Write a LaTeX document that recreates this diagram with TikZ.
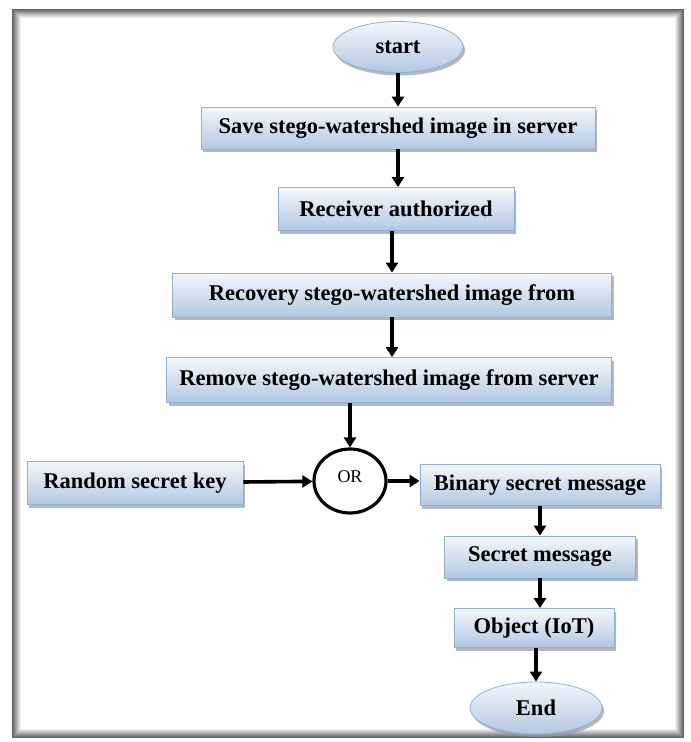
\documentclass[tikz,border=0pt]{standalone}
\usepackage{fontspec}
\setmainfont{Liberation Serif}
\usetikzlibrary{positioning, arrows.meta, shapes.geometric, shadows}
\definecolor{boxtop}{HTML}{F4F7FC}
\definecolor{boxbot}{HTML}{B3C7E2}
\definecolor{boxline}{HTML}{8EAFD8}

\begin{document}
\begin{tikzpicture}[x=1pt,y=-1pt,on grid,
  font=\fontsize{22.5}{26}\selectfont\bfseries,
  >={Triangle[length=10pt,width=12pt]},
  block/.style={rectangle, draw=boxline, line width=0.8pt, inner sep=0pt,
    top color=boxtop, bottom color=boxbot,
    drop shadow={shadow xshift=2pt, shadow yshift=-3pt, fill=black!40, opacity=0.7}},
  term/.style={block, ellipse},
  gate/.style={ellipse, draw, line width=3.2pt, fill=white, inner sep=0pt,
    minimum width=72pt, minimum height=64pt,
    font=\fontsize{18}{20}\selectfont\mdseries},
  flow/.style={->, line width=3.6pt}]
  \useasboundingbox (0,0) rectangle (691,742);
  % frame with inner shade
  \foreach \i [evaluate=\i as \g using 62-7*\i] in {0,...,8}
    \draw[line width=1pt, black!\g] (12+\i,9+\i) rectangle (683-\i,737-\i);

  \node[term, minimum width=130pt, minimum height=51pt] (start) at (398,47) {start};
  \node[block, minimum width=394pt, minimum height=42pt] (save) [below=81pt of start] {Save stego-watershed image in server};
  \node[block, minimum width=236pt, minimum height=43pt] (recv) [below=81pt of save, xshift=-2pt] {Receiver authorized};
  \node[block, minimum width=439pt, minimum height=44pt] (recov) [below=86pt of recv, xshift=-4pt] {Recovery stego-watershed image from};
  \node[block, minimum width=445pt, minimum height=45pt] (remove) [below=85pt of recov, xshift=-3pt] {Remove stego-watershed image from server};
  \node[gate] (orgate) [below=101pt of remove, xshift=-39pt] {\raisebox{9pt}{OR}};
  \node[block, minimum width=216pt, minimum height=43pt] (key) [left=215pt of orgate, yshift=-2pt] {Random secret key};
  \node[block, minimum width=240pt, minimum height=41pt] (binary) [right=190pt of orgate, yshift=-4pt] {Binary secret message};
  \node[block, minimum width=191pt, minimum height=42pt] (secret) [below=72pt of binary] {Secret message};
  \node[block, minimum width=160pt, minimum height=39pt] (object) [below=71pt of secret, xshift=-6pt] {Object (IoT)};
  \node[term, minimum width=132pt, minimum height=52pt] (end) [below=80pt of object, xshift=2pt] {End};

  \draw[flow] (start) -- (save);
  \draw[flow] (save) -- (save |- recv.north);
  \draw[flow] (recov |- recv.south) -- (recov);
  \draw[flow] (recov) -- (recov |- remove.north);
  \draw[flow] (orgate |- remove.south) -- (orgate);
  \draw[flow] (key) -- (orgate);
  \draw[flow] (orgate) -- (orgate -| binary.west);
  \draw[flow] (secret |- binary.south) -- (secret);
  \draw[flow] (secret) -- (secret |- object.north);
  \draw[flow] (end |- object.south) -- (end);
\end{tikzpicture}
\end{document}
